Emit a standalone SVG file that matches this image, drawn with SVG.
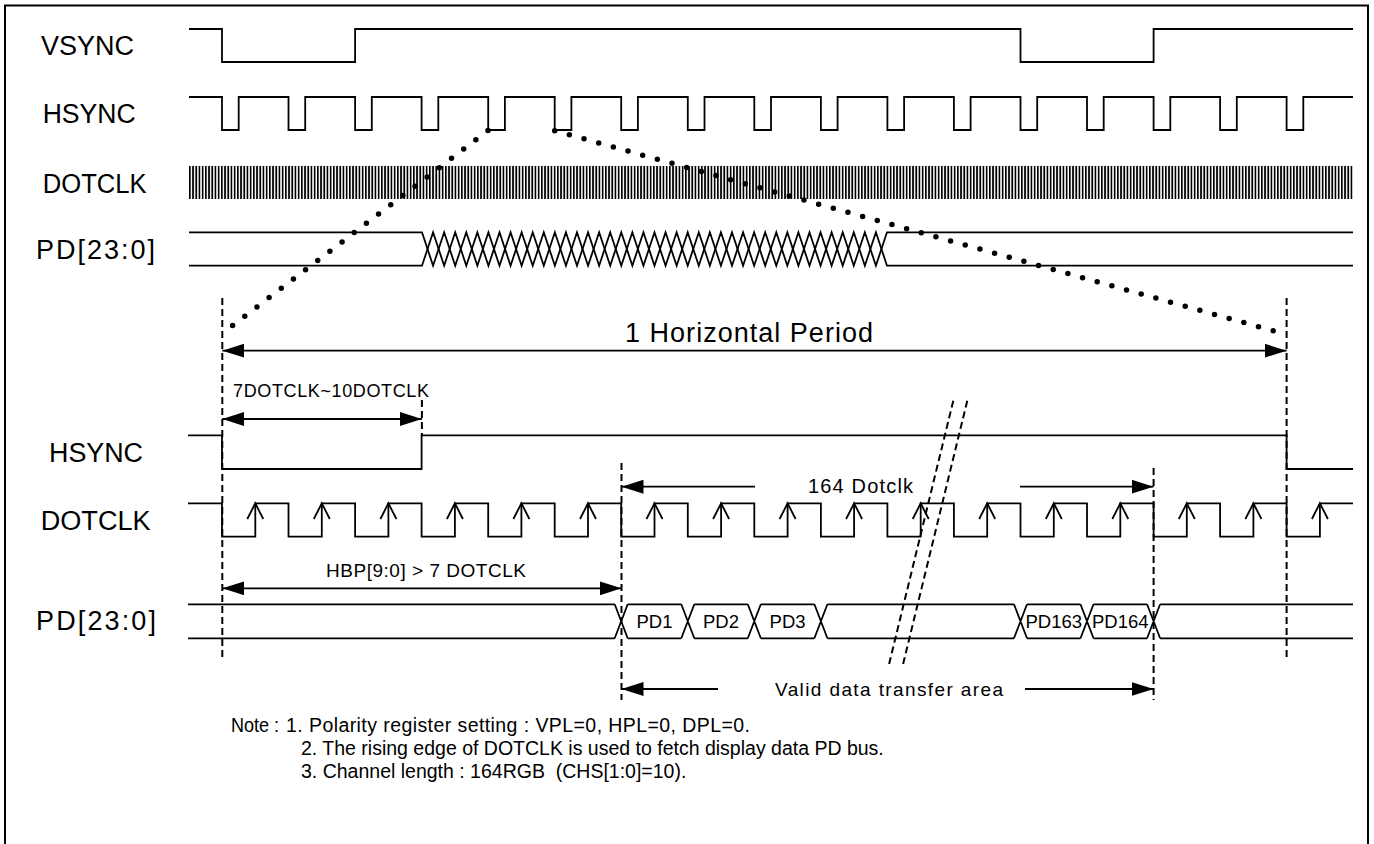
<svg xmlns="http://www.w3.org/2000/svg" width="1374" height="844" viewBox="0 0 1374 844">
<style>
text{font-family:"Liberation Sans",Arial,sans-serif;fill:#000}
.lbl{font-size:27px}
.sm{font-size:19px}
.nt{font-size:19.5px}
.pd{font-size:18.5px;text-anchor:middle}
.sig{fill:none;stroke:#000;stroke-width:1.8}
.arr{fill:none;stroke:#000;stroke-width:1.8}
.dash{fill:none;stroke:#000;stroke-width:2;stroke-dasharray:7 4}
.dot{fill:none;stroke:#000;stroke-width:5.5;stroke-linecap:round}
</style>
<defs>
<marker id="ah" markerUnits="userSpaceOnUse" markerWidth="24" markerHeight="16" viewBox="0 0 24 16" refX="22" refY="7" orient="auto-start-reverse"><path d="M0,0 L22,7 L0,14 z" fill="#000"/></marker>
<pattern id="clk" patternUnits="userSpaceOnUse" x="189" y="0" width="3.2" height="40"><rect x="0" y="0" width="1.7" height="40" fill="#000"/></pattern>
</defs>
<rect x="5" y="5.5" width="1363" height="860" fill="none" stroke="#000" stroke-width="2"/>

<g id="vsync">
<text class="lbl" x="41" y="55" textLength="93" lengthAdjust="spacingAndGlyphs">VSYNC</text>
<path class="sig" d="M189,29 H222 V62 H355.1 V29 H1020.5 V62 H1153.6 V29 H1353"/>
</g>
<g id="hsync-top">
<text class="lbl" x="42.7" y="122.7" textLength="93" lengthAdjust="spacingAndGlyphs">HSYNC</text>
<path class="sig" d="M189,97 H222 V130 H238.7 V97 H288.5 V130 H305.2 V97 H355.1 V130 H371.8 V97 H421.6 V130 H438.3 V97 H488.2 V130 H504.9 V97 H554.7 V130 H571.4 V97 H621.2 V130 H637.9 V97 H687.8 V130 H704.5 V97 H754.3 V130 H771 V97 H820.9 V130 H837.6 V97 H887.4 V130 H904.1 V97 H953.9 V130 H970.6 V97 H1020.5 V130 H1037.2 V97 H1087 V130 H1103.7 V97 H1153.6 V130 H1170.3 V97 H1220.1 V130 H1236.8 V97 H1286.6 V130 H1303.3 V97 H1353"/>
</g>
<g id="dotclk-top">
<text class="lbl" x="42.7" y="192.7" textLength="104" lengthAdjust="spacingAndGlyphs">DOTCLK</text>
<rect x="189" y="166" width="1164" height="33" fill="url(#clk)"/>
</g>
<g id="pd-top">
<text class="lbl" x="36" y="259" textLength="119" lengthAdjust="spacing">PD[23:0]</text>
<path class="sig" d="M189,232.3 H422 l11.071,33.4 l11.071,-33.4 l11.071,33.4 l11.071,-33.4 l11.071,33.4 l11.071,-33.4 l11.071,33.4 l11.071,-33.4 l11.071,33.4 l11.071,-33.4 l11.071,33.4 l11.071,-33.4 l11.071,33.4 l11.071,-33.4 l11.071,33.4 l11.071,-33.4 l11.071,33.4 l11.071,-33.4 l11.071,33.4 l11.071,-33.4 l11.071,33.4 l11.071,-33.4 l11.071,33.4 l11.071,-33.4 l11.071,33.4 l11.071,-33.4 l11.071,33.4 l11.071,-33.4 l11.071,33.4 l11.071,-33.4 l11.071,33.4 l11.071,-33.4 l11.071,33.4 l11.071,-33.4 l11.071,33.4 l11.071,-33.4 l11.071,33.4 l11.071,-33.4 l11.071,33.4 l11.071,-33.4 l11.071,33.4 l11.071,-33.4 H1353"/>
<path class="sig" d="M189,265.7 H422 l11.071,-33.4 l11.071,33.4 l11.071,-33.4 l11.071,33.4 l11.071,-33.4 l11.071,33.4 l11.071,-33.4 l11.071,33.4 l11.071,-33.4 l11.071,33.4 l11.071,-33.4 l11.071,33.4 l11.071,-33.4 l11.071,33.4 l11.071,-33.4 l11.071,33.4 l11.071,-33.4 l11.071,33.4 l11.071,-33.4 l11.071,33.4 l11.071,-33.4 l11.071,33.4 l11.071,-33.4 l11.071,33.4 l11.071,-33.4 l11.071,33.4 l11.071,-33.4 l11.071,33.4 l11.071,-33.4 l11.071,33.4 l11.071,-33.4 l11.071,33.4 l11.071,-33.4 l11.071,33.4 l11.071,-33.4 l11.071,33.4 l11.071,-33.4 l11.071,33.4 l11.071,-33.4 l11.071,33.4 l11.071,-33.4 l11.071,33.4 H1353"/>
</g>

<g id="hsync-low">
<text class="lbl" x="49" y="461.7" textLength="94" lengthAdjust="spacingAndGlyphs">HSYNC</text>
<path class="sig" d="M188,435.3 H222 V469 H421.6 V435.3 H1286.6 V469 H1353"/>
</g>
<g id="dotclk-low">
<text class="lbl" x="40.7" y="530" textLength="110" lengthAdjust="spacingAndGlyphs">DOTCLK</text>
<path class="sig" d="M188,503.3 H222 V536.7 H255.3 V503.3 H288.5 V536.7 H321.8 V503.3 H355.1 V536.7 H388.4 V503.3 H421.6 V536.7 H454.9 V503.3 H488.2 V536.7 H521.4 V503.3 H554.7 V536.7 H588 V503.3 H621.2 V536.7 H654.5 V503.3 H687.8 V536.7 H721.1 V503.3 H754.3 V536.7 H787.6 V503.3 H820.9 V536.7 H854.1 V503.3 H887.4 V536.7 H920.7 V503.3 H953.9 V536.7 H987.2 V503.3 H1020.5 V536.7 H1053.8 V503.3 H1087 V536.7 H1120.3 V503.3 H1153.6 V536.7 H1186.8 V503.3 H1220.1 V536.7 H1253.4 V503.3 H1286.6 V536.7 H1319.9 V503.3 H1353"/>
<path class="sig" d="M247.3,519 l8,-15.7 l8,15.7 M313.8,519 l8,-15.7 l8,15.7 M380.4,519 l8,-15.7 l8,15.7 M446.9,519 l8,-15.7 l8,15.7 M513.4,519 l8,-15.7 l8,15.7 M580,519 l8,-15.7 l8,15.7 M646.5,519 l8,-15.7 l8,15.7 M713.1,519 l8,-15.7 l8,15.7 M779.6,519 l8,-15.7 l8,15.7 M846.1,519 l8,-15.7 l8,15.7 M912.7,519 l8,-15.7 l8,15.7 M979.2,519 l8,-15.7 l8,15.7 M1045.8,519 l8,-15.7 l8,15.7 M1112.3,519 l8,-15.7 l8,15.7 M1178.8,519 l8,-15.7 l8,15.7 M1245.4,519 l8,-15.7 l8,15.7 M1311.9,519 l8,-15.7 l8,15.7"/>
</g>
<g id="pd-low">
<text class="lbl" x="36" y="630" textLength="120" lengthAdjust="spacing">PD[23:0]</text>
<path class="sig" d="M188,604.3 H614.7 M188,638.3 H614.7 M614.7,604.3 L627.7,638.3 M614.7,638.3 L627.7,604.3 M627.7,604.3 H681.3 M627.7,638.3 H681.3 M681.3,604.3 L694.3,638.3 M681.3,638.3 L694.3,604.3 M694.3,604.3 H747.8 M694.3,638.3 H747.8 M747.8,604.3 L760.8,638.3 M747.8,638.3 L760.8,604.3 M760.8,604.3 H814.4 M760.8,638.3 H814.4 M814.4,604.3 L827.4,638.3 M814.4,638.3 L827.4,604.3 M827.4,604.3 H1014 M827.4,638.3 H1014 M1014,604.3 L1027,638.3 M1014,638.3 L1027,604.3 M1027,604.3 H1080.5 M1027,638.3 H1080.5 M1080.5,604.3 L1093.5,638.3 M1080.5,638.3 L1093.5,604.3 M1093.5,604.3 H1147.1 M1093.5,638.3 H1147.1 M1147.1,604.3 L1160.1,638.3 M1147.1,638.3 L1160.1,604.3 M1160.1,604.3 H1353 M1160.1,638.3 H1353"/>
<text class="pd" x="654.5" y="628">PD1</text>
<text class="pd" x="721" y="628">PD2</text>
<text class="pd" x="787.6" y="628">PD3</text>
<text class="pd" x="1053.8" y="628">PD163</text>
<text class="pd" x="1120.3" y="628">PD164</text>
</g>

<g id="connectors">
<path class="dot" stroke-dasharray="0 15.3" d="M488,130.5 L232.3,325.7"/>
<path class="dot" stroke-dasharray="0 15.22" d="M554.7,130.7 L1274,331"/>
<path class="dash" d="M222.3,298 V661"/>
<path class="dash" d="M1286.6,298 V661"/>
<path class="dash" d="M621.5,463 V700"/>
<path class="dash" d="M1153.6,468 V700"/>
<path class="dash" d="M421.9,400 V436"/>
<path class="dash" d="M953.3,400.7 L888.3,667.3"/>
<path class="dash" d="M967.3,400.7 L902.3,667.3"/>
<path class="arr" d="M222.3,350.7 H1286.6" marker-start="url(#ah)" marker-end="url(#ah)"/>
<path class="arr" d="M222.3,419 H421.9" marker-start="url(#ah)" marker-end="url(#ah)"/>
<path class="arr" d="M222.3,588.3 H621.5" marker-start="url(#ah)" marker-end="url(#ah)"/>
<path class="arr" d="M755,486.7 H621.5" marker-end="url(#ah)"/>
<path class="arr" d="M1020,486.7 H1153.6" marker-end="url(#ah)"/>
<path class="arr" d="M718,689 H621.5" marker-end="url(#ah)"/>
<path class="arr" d="M1025,689 H1153.6" marker-end="url(#ah)"/>
</g>

<g id="labels">
<text x="625" y="342.3" font-size="27" textLength="248" lengthAdjust="spacing">1 Horizontal Period</text>
<text x="233" y="397" font-size="18" textLength="196" lengthAdjust="spacing">7DOTCLK~10DOTCLK</text>
<text x="326" y="577" class="sm" textLength="200" lengthAdjust="spacing">HBP[9:0] &gt; 7 DOTCLK</text>
<text x="808" y="492.7" font-size="20" textLength="105" lengthAdjust="spacing">164 Dotclk</text>
<text x="775" y="696" class="sm" textLength="228" lengthAdjust="spacing">Valid data transfer area</text>
</g>

<g id="notes">
<text x="231" y="732" class="nt" textLength="48" lengthAdjust="spacingAndGlyphs">Note :</text>
<text x="286" y="732" class="nt" textLength="464" lengthAdjust="spacing">1. Polarity register setting : VPL=0, HPL=0, DPL=0.</text>
<text x="301" y="755" class="nt">2. The rising edge of DOTCLK is used to fetch display data PD bus.</text>
<text x="301" y="778" class="nt" xml:space="preserve">3. Channel length : 164RGB  (CHS[1:0]=10).</text>
</g>
</svg>
